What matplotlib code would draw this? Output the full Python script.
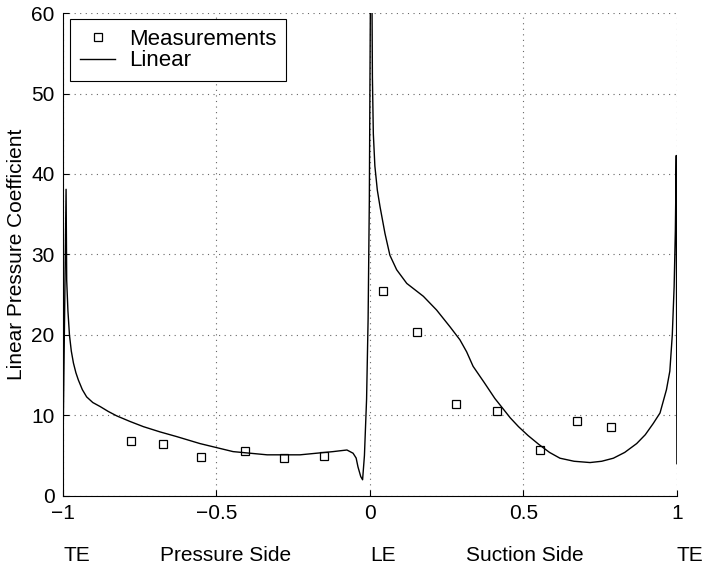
import matplotlib
matplotlib.use('Agg')
import matplotlib.pyplot as plt

plt.rcParams['font.family'] = ['Liberation Sans', 'DejaVu Sans']

# Medidas (cuadrados)
meas_x = [-0.78, -0.674, -0.55, -0.407, -0.28, -0.15,
          0.042, 0.153, 0.28, 0.414, 0.554, 0.674, 0.785]
meas_y = [6.8, 6.5, 4.8, 5.6, 4.7, 4.9,
          25.5, 20.4, 11.4, 10.5, 5.7, 9.3, 8.5]

# Curva lineal
lin_x = [-1.0, -0.990, -0.988, -0.984, -0.979, -0.973, -0.966, -0.958, -0.950,
         -0.937, -0.923, -0.903, -0.879, -0.853, -0.825, -0.782, -0.738, -0.684,
         -0.63, -0.554, -0.446, -0.335, -0.228, -0.12, -0.098, -0.075,
         -0.055, -0.045, -0.039, -0.030, -0.024, -0.018, -0.011, -0.006, -0.002,
         0.004, 0.008, 0.011, 0.016, 0.024, 0.033, 0.049, 0.065, 0.087, 0.12,
         0.147, 0.174, 0.217, 0.261, 0.293, 0.315, 0.336, 0.372, 0.407, 0.43,
         0.457, 0.484, 0.515, 0.55, 0.585, 0.619, 0.665, 0.717, 0.755, 0.793,
         0.83, 0.869, 0.897, 0.923, 0.945, 0.966, 0.977, 0.985, 0.991, 0.995,
         0.998, 1.0]
lin_y = [6.0, 38.1, 26.8, 23.0, 20.0, 18.0, 16.5, 15.3, 14.4,
         13.2, 12.3, 11.6, 11.1, 10.5, 9.94, 9.25, 8.6, 7.95,
         7.37, 6.5, 5.5, 5.1, 5.1, 5.5, 5.6, 5.7,
         5.3, 4.7, 3.6, 2.4, 2.0, 5.0, 12.0, 22.0, 36.8,
         80.0, 52.0, 45.0, 41.0, 38.0, 35.9, 32.6, 29.9, 28.1, 26.4,
         25.6, 24.8, 23.1, 21.0, 19.4, 17.9, 16.1, 14.1, 12.1, 11.0,
         9.7, 8.6, 7.5, 6.4, 5.4, 4.68, 4.3, 4.14, 4.3, 4.68,
         5.4, 6.5, 7.6, 9.0, 10.3, 13.2, 15.5, 20.0, 26.0, 33.0,
         42.3, 4.0]

x_ticks = [-1, -0.5, 0, 0.5, 1]
x_tick_labels = ['\u22121', '\u22120.5', '0', '0.5', '1']
y_ticks = [0, 10, 20, 30, 40, 50, 60]

fig = plt.figure(figsize=(7.04, 5.68), dpi=100)
ax = fig.add_axes([0.0895, 0.127, 0.872, 0.85])

ax.plot(meas_x, meas_y, linestyle='none', marker='s', markersize=6,
        markerfacecolor='white', markeredgecolor='black', markeredgewidth=0.9,
        label='Measurements')
ax.plot(lin_x, lin_y, color='black', linewidth=1.0, label='Linear')

ax.set_xlim(-1, 1)
ax.set_ylim(0, 60)
ax.set_xticks(x_ticks)
ax.set_xticklabels(x_tick_labels)
ax.set_yticks(y_ticks)
ax.tick_params(direction='in', length=4, labelsize=15, pad=6)
ax.grid(True, linestyle=(0, (1, 4)), color='0.4', linewidth=0.8)
ax.spines['top'].set_visible(False)
ax.spines['right'].set_visible(False)
ax.set_ylabel('Linear Pressure Coefficient', fontsize=15, labelpad=4)

# Etiquetas bajo el eje x
etiquetas = [(-1.0, 'TE', 'left'), (-0.472, 'Pressure Side', 'center'),
             (0.0, 'LE', 'left'), (0.503, 'Suction Side', 'center'),
             (1.0, 'TE', 'left')]
for xv, txt, ha in etiquetas:
    ax.text(xv, -0.134, txt, transform=ax.get_xaxis_transform(),
            ha=ha, va='baseline', fontsize=15)

leg = ax.legend(loc='upper left', bbox_to_anchor=(0.011, 0.988), fontsize=16,
                frameon=True, fancybox=False, edgecolor='black',
                framealpha=1, handlelength=1.6, borderpad=0.45,
                labelspacing=0.02, handletextpad=0.6, borderaxespad=0)
leg.get_frame().set_linewidth(0.8)

fig.savefig('out.png', dpi=100)
